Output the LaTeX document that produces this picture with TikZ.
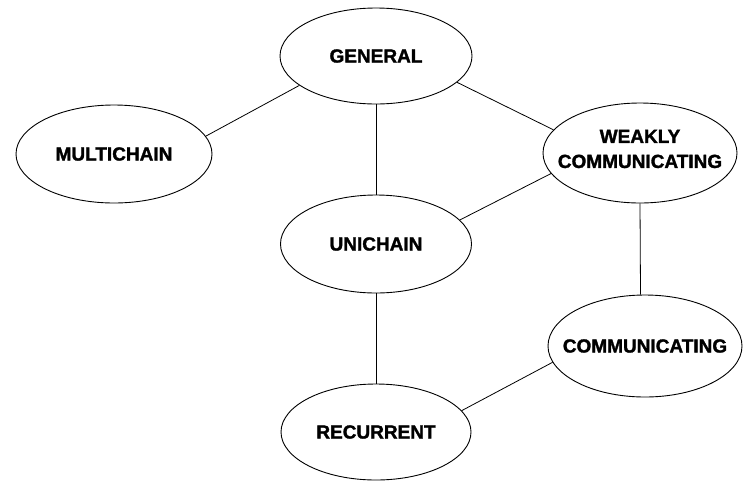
\documentclass[tikz,border=0pt]{standalone}
\usepackage{fontspec}
\setmainfont{Liberation Sans}
\newfontfamily\labelfont[FakeBold=1.6]{Liberation Sans Bold}
\usetikzlibrary{shapes.geometric}
\begin{document}
\begin{tikzpicture}[x=1pt,y=-1pt,
  state/.style={ellipse,draw,line width=0.9pt,inner sep=0pt},
  lab/.style={font=\fontsize{19}{25}\labelfont,align=center,inner sep=0pt},
  link/.style={line width=0.8pt}]
\useasboundingbox (0,0) rectangle (749,488);
\node[state,minimum width=192pt,minimum height=96pt,label={[lab]center:GENERAL}] (gen) at (376,56) {};
\node[state,minimum width=196pt,minimum height=98pt,label={[lab]center:MULTICHAIN}] (multi) at (114,154) {};
\node[state,minimum width=194pt,minimum height=100pt,label={[lab,yshift=4pt]center:WEAKLY\\COMMUNICATING}] (weak) at (640,153) {};
\node[state,minimum width=191pt,minimum height=98pt,label={[lab]center:UNICHAIN}] (uni) at (376,244) {};
\node[state,minimum width=194pt,minimum height=102pt,label={[lab]center:COMMUNICATING}] (comm) at (645,346) {};
\node[state,minimum width=190pt,minimum height=96pt,label={[lab]center:RECURRENT}] (rec) at (376,432) {};
\draw[link] (gen.201.7) -- (multi.11.8);
\draw[link] (gen.342.6) -- (weak.165.2);
\draw[link] (gen.south) -- (uni.north);
\draw[link] (weak.193.4) -- (uni.16.1);
\draw[link] (weak.south) -- (comm.95.6);
\draw[link] (uni.south) -- (rec.north);
\draw[link] (comm.190.5) -- (rec.14.3);
\end{tikzpicture}
\end{document}
